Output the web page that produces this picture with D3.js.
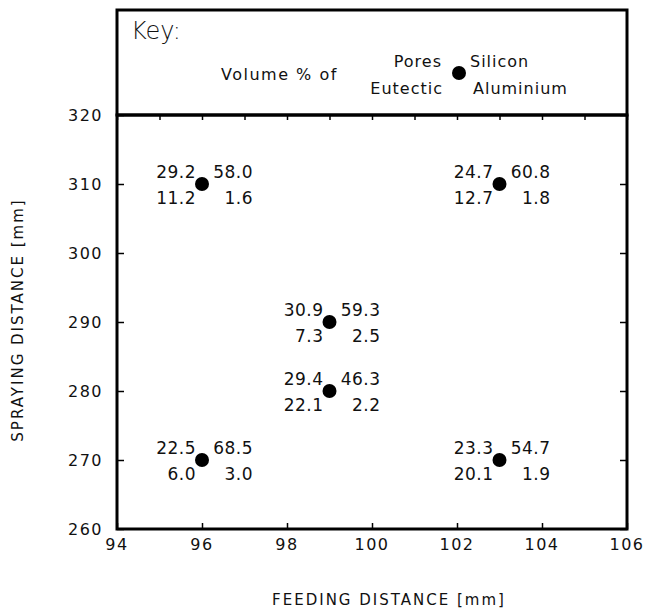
<!DOCTYPE html>
<html>
<head>
<meta charset="utf-8">
<script src="https://cdn.jsdelivr.net/npm/d3@7"></script>
<style>
  body { margin: 0; background: #fff; }
  text { font-family: "DejaVu Sans", sans-serif; fill: #111; }
</style>
</head>
<body>
<svg id="mainSvg" width="657" height="612"></svg>
<script>
// feeding distance (mm), spraying distance (mm)
var feeding = [96, 103, 99, 99, 96, 103];
var spraying = [310, 310, 290, 280, 270, 270];
// volume % of pores, silicon, eutectic, aluminium
var pores = [29.2, 24.7, 30.9, 29.4, 22.5, 23.3];
var silicon = [58.0, 60.8, 59.3, 46.3, 68.5, 54.7];
var eutectic = [11.2, 12.7, 7.3, 22.1, 6.0, 20.1];
var aluminium = [1.6, 1.8, 2.5, 2.2, 3.0, 1.9];

var xTicks = [94, 96, 98, 100, 102, 104, 106];
var yTicks = [260, 270, 280, 290, 300, 310, 320];

var points = feeding.map(function(f, i) {
  return { fx: f, sy: spraying[i], p: pores[i], s: silicon[i], e: eutectic[i], a: aluminium[i] };
});

var plotL = 117, plotR = 627, plotT = 115, plotB = 529, keyTop = 10;

var svg = d3.select("#mainSvg");

var x = d3.scaleLinear().domain([94, 106]).range([plotL, plotR]);
var y = d3.scaleLinear().domain([260, 320]).range([plotB, plotT]);

// key box
svg.append("rect")
  .attr("x", plotL).attr("y", keyTop)
  .attr("width", plotR - plotL).attr("height", plotT - keyTop)
  .attr("fill", "none").attr("stroke", "#000").attr("stroke-width", 3);

svg.append("text").attr("x", 131).attr("y", 39)
  .style("font-size", "24px").style("font-weight", "300").text("Key:");
svg.append("text").attr("x", 221).attr("y", 80)
  .style("font-size", "16px").style("letter-spacing", "1.5px").text("Volume % of");
svg.append("circle").attr("cx", 459).attr("cy", 73).attr("r", 7).attr("fill", "#000");
svg.append("text").attr("x", 442).attr("y", 67).attr("text-anchor", "end")
  .style("font-size", "16px").style("letter-spacing", "1px").text("Pores");
svg.append("text").attr("x", 443).attr("y", 94).attr("text-anchor", "end")
  .style("font-size", "16px").style("letter-spacing", "1px").text("Eutectic");
svg.append("text").attr("x", 470).attr("y", 67)
  .style("font-size", "16px").style("letter-spacing", "1px").text("Silicon");
svg.append("text").attr("x", 473).attr("y", 94)
  .style("font-size", "16px").style("letter-spacing", "1px").text("Aluminium");

// axes with inward ticks
var gBottom = svg.append("g").attr("transform", "translate(0," + plotB + ")")
  .call(d3.axisTop(x).tickValues(xTicks).tickSize(6).tickFormat(""));
var gTop = svg.append("g").attr("transform", "translate(0," + plotT + ")")
  .call(d3.axisBottom(x).tickValues(d3.range(94, 107)).tickSize(5).tickFormat(""));
var gLeft = svg.append("g").attr("transform", "translate(" + plotL + ",0)")
  .call(d3.axisRight(y).tickValues(yTicks).tickSize(7).tickFormat(""));
var gRight = svg.append("g").attr("transform", "translate(" + plotR + ",0)")
  .call(d3.axisLeft(y).tickValues(yTicks).tickSize(7).tickFormat(""));
[gBottom, gTop, gLeft, gRight].forEach(function(g) {
  g.select(".domain").remove();
  g.selectAll("line").attr("stroke", "#000").attr("stroke-width", 1.5);
});

svg.append("rect")
  .attr("x", plotL).attr("y", plotT)
  .attr("width", plotR - plotL).attr("height", plotB - plotT)
  .attr("fill", "none").attr("stroke", "#000").attr("stroke-width", 3);

// tick labels
svg.selectAll(".xlab").data(xTicks).enter().append("text")
  .attr("class", "xlab")
  .attr("x", function(d) { return x(d); }).attr("y", 550)
  .attr("text-anchor", "middle").style("font-size", "16px").style("letter-spacing", "1.5px")
  .text(function(d) { return d; });
svg.selectAll(".ylab").data(yTicks).enter().append("text")
  .attr("class", "ylab")
  .attr("x", 103).attr("y", function(d) { return y(d) + 6; })
  .attr("text-anchor", "end").style("font-size", "16px").style("letter-spacing", "1.5px")
  .text(function(d) { return d; });

// axis titles
svg.append("text").attr("x", 389).attr("y", 605)
  .attr("text-anchor", "middle").style("font-size", "15px").style("letter-spacing", "2px")
  .text("FEEDING DISTANCE [mm]");
svg.append("text")
  .attr("transform", "translate(23,320) rotate(-90)")
  .attr("text-anchor", "middle").style("font-size", "15px").style("letter-spacing", "2px")
  .text("SPRAYING DISTANCE [mm]");

// points and labels
var pts = svg.selectAll(".pt").data(points).enter().append("g").attr("class", "pt")
  .attr("transform", function(d) { return "translate(" + x(d.fx) + "," + y(d.sy) + ")"; });
pts.append("circle").attr("r", 7).attr("fill", "#000");
function lab(dx, dy, key) {
  pts.append("text").attr("x", dx).attr("y", dy).attr("text-anchor", "end")
    .style("font-size", "17px").style("letter-spacing", "0.5px")
    .text(function(d) { return d[key].toFixed(1); });
}
lab(-6, -6, "p");
lab(51, -6, "s");
lab(-6, 20, "e");
lab(51, 20, "a");
</script>
</body>
</html>
